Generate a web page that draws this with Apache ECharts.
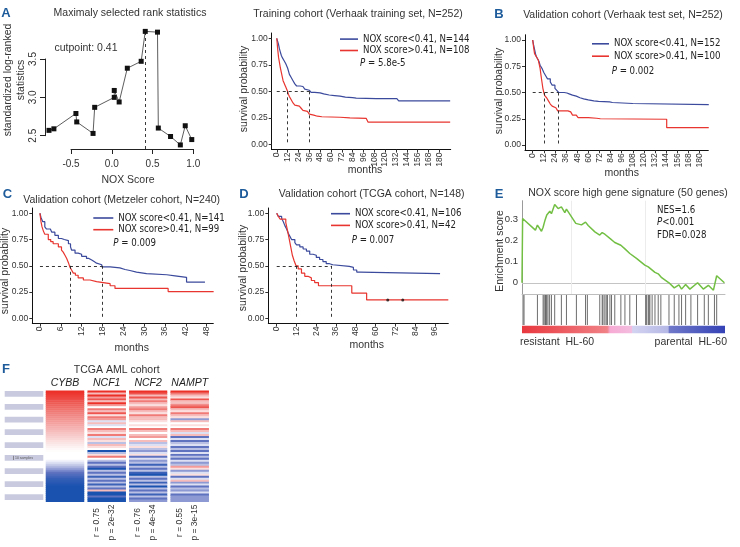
<!DOCTYPE html>
<html><head><meta charset="utf-8">
<script src="https://cdn.jsdelivr.net/npm/echarts@6/dist/echarts.min.js"></script>
<style>html,body{margin:0;padding:0;background:#fff}#c{width:740px;height:547px}</style>
</head><body><div id="c"></div>
<script>
// ---------- DATA ----------
// A: maximally selected rank statistics
const rankX = [-0.77,-0.71,-0.44,-0.43,-0.23,-0.21,0.03,0.03,0.09,0.19,0.36,0.41,0.56,0.57,0.72,0.84,0.90,0.98];
const rankY = [2.57,2.59,2.79,2.68,2.53,2.87,3.00,3.09,2.94,3.38,3.47,3.86,3.85,2.60,2.49,2.38,2.63,2.45];
const cutpoint = 0.41;
const rankXTicks = [-0.5,0,0.5,1.0];
const rankYTicks = [2.5,3.0,3.5];

// Kaplan-Meier curves [months, survival]
const trainBlue = [[0,1],[1,0.97],[2,0.94],[3,0.9],[4,0.87],[5,0.84],[6,0.82],[8,0.79],[10,0.76],[12,0.72],[13,0.69],[14,0.66],[16,0.63],[18,0.6],[20,0.57],[22,0.55],[26,0.545],[29,0.535],[31,0.52],[33,0.51],[36,0.5],[38,0.49],[42,0.485],[48,0.475],[52,0.465],[58,0.46],[64,0.455],[70,0.445],[76,0.44],[84,0.435],[88,0.43],[110,0.43],[133,0.425],[135,0.41],[192,0.41]];
const trainRed = [[0,1],[1,0.9],[2,0.82],[3,0.77],[4,0.72],[5,0.68],[6,0.64],[7,0.6],[8,0.58],[9,0.56],[10,0.54],[11,0.52],[12,0.5],[13,0.47],[14,0.45],[16,0.42],[18,0.39],[20,0.37],[22,0.36],[25,0.35],[27,0.34],[29,0.32],[31,0.31],[34,0.295],[36,0.285],[38,0.275],[41,0.265],[45,0.26],[50,0.255],[70,0.25],[81,0.245],[99,0.24],[101,0.21],[192,0.21]];
const testBlue = [[0,1],[1,0.95],[2,0.91],[3,0.87],[4,0.84],[6,0.81],[7,0.79],[8,0.76],[10,0.73],[12,0.69],[14,0.66],[16,0.63],[19,0.6],[21,0.57],[24,0.54],[26,0.52],[28,0.5],[34,0.495],[37,0.485],[40,0.475],[43,0.465],[47,0.45],[51,0.44],[55,0.43],[60,0.42],[66,0.415],[71,0.41],[83,0.405],[86,0.395],[108,0.385],[190,0.385]];
const testRed = [[0,1],[1,0.93],[2,0.87],[4,0.84],[6,0.81],[7,0.77],[8,0.73],[9,0.66],[10,0.6],[11,0.54],[12,0.5],[13,0.47],[15,0.45],[17,0.42],[19,0.39],[21,0.37],[23,0.355],[25,0.34],[27,0.325],[38,0.315],[41,0.3],[43,0.285],[47,0.27],[49,0.26],[60,0.255],[69,0.25],[73,0.245],[144.6,0.165],[190,0.165]];
const metBlue = [[0,1],[0.3,0.96],[0.8,0.92],[1.4,0.87],[1.9,0.85],[3,0.84],[3.4,0.82],[4.3,0.79],[5.3,0.76],[6.2,0.75],[7,0.74],[8.2,0.71],[8.8,0.68],[9.1,0.65],[10.1,0.62],[11,0.61],[12,0.59],[13.4,0.57],[14.1,0.555],[14.9,0.54],[15.6,0.525],[16.3,0.51],[17.8,0.49],[20.2,0.48],[23,0.465],[24.5,0.455],[25.9,0.44],[27.8,0.425],[30.7,0.415],[36.5,0.405],[38.9,0.39],[42.2,0.345],[47.5,0.345]];
const metRed = [[0,1],[0.3,0.92],[0.6,0.87],[1,0.83],[1.4,0.8],[2.4,0.75],[3.1,0.73],[3.8,0.71],[5.3,0.68],[6.2,0.65],[6.7,0.63],[7.2,0.6],[7.7,0.57],[8.2,0.53],[8.6,0.49],[9.1,0.46],[9.6,0.43],[10.2,0.41],[11,0.385],[12.5,0.365],[14.4,0.35],[16.3,0.335],[19.2,0.33],[20.2,0.31],[21.6,0.285],[36.9,0.255],[50,0.255]];
const tcgaBlue = [[0,1],[1,0.97],[3,0.95],[4,0.92],[5,0.88],[6,0.85],[7,0.81],[8,0.78],[9,0.75],[11,0.72],[12,0.7],[14,0.68],[16,0.66],[18,0.64],[20,0.61],[22,0.6],[24,0.58],[26,0.56],[28,0.54],[30,0.52],[32,0.51],[34,0.495],[44,0.485],[46.5,0.46],[48.5,0.44],[50.5,0.425],[99,0.425]];
const tcgaRed = [[0,1],[1,0.97],[2,0.945],[5.5,0.91],[6.5,0.84],[7.5,0.76],[8.5,0.68],[9.5,0.6],[10.5,0.55],[11.7,0.5],[13,0.47],[15,0.43],[17,0.4],[19,0.385],[21,0.36],[23,0.34],[25.3,0.31],[45.5,0.24],[54.5,0.175],[104,0.175]];
const tcgaRedCensor = [[67.3,0.175],[76.4,0.175]];
// medians [blue, red]
const trainMedian = [36, 12];
const testMedian = [27.7, 12.2];
const metMedian = [17.8, 8.6];
const tcgaMedian = [33.3, 11.7];
const trainTicks = [0,12,24,36,48,60,72,84,96,108,120,132,144,156,168,180];
const testTicks = [0,12,24,36,48,60,72,84,96,108,120,132,144,156,168,180];
const metTicks = [0,6,12,18,24,30,36,42,48];
const tcgaTicks = [0,12,24,36,48,60,72,84,96];
const survTicks = [0,0.25,0.5,0.75,1];
const trainNames = ['NOX score<0.41, N=144','NOX score>0.41, N=108'];
const testNames = ['NOX score<0.41, N=152','NOX score>0.41, N=100'];
const metNames = ['NOX score<0.41, N=141','NOX score>0.41, N=99'];
const tcgaNames = ['NOX score<0.41, N=106','NOX score>0.41, N=42'];
const pValues = ['5.8e-5','0.002','0.009','0.007'];

// E: GSEA running enrichment score [rank %, ES]
const esCurve = [[0,0],[0.3,0.303],[6.6,0.248],[7.6,0.272],[9.6,0.243],[10.4,0.262],[10.9,0.28],[11.5,0.30],[12.2,0.32],[12.8,0.315],[13.7,0.337],[14.5,0.326],[16.1,0.369],[17.8,0.35],[19.4,0.358],[21.1,0.331],[21.9,0.347],[26.5,0.28],[26.8,0.289],[29.3,0.273],[31.3,0.286],[32.6,0.27],[35.9,0.24],[38.3,0.225],[39.5,0.237],[40.8,0.229],[41.5,0.232],[43.3,0.209],[44.1,0.214],[45.7,0.19],[48.7,0.177],[50.7,0.16],[51,0.165],[53.1,0.138],[56.4,0.115],[60.5,0.083],[61.4,0.088],[62.2,0.075],[63,0.08],[65.5,0.049],[67.1,0.042],[68.8,0.024],[72.4,0.0],[75,-0.024],[77.3,-0.01],[78.6,-0.03],[80.6,-0.008],[82.7,-0.03],[86.5,0.0],[89.3,-0.03],[91.8,-0.012],[94.3,-0.035],[95.9,0.033],[99.7,0.0]];
const hits = [0.5,1.0,7.6,10.4,10.9,11.5,11.8,12.2,12.8,13.6,14.5,16.1,19.4,21.9,26.8,31.3,32.2,38.3,39.5,39.9,40.8,41.5,42.1,43.3,44.1,45.7,48.7,50.7,53.1,56.4,60.9,61.4,62.2,62.6,63.0,64.1,65.5,67.1,68.4,72.4,75.0,77.3,78.6,80.6,83.2,86.5,89.8,91.8,94.8,95.9];
const esTicks = [0,0.1,0.2,0.3];

// F: heatmap (z-scored expression, rows sorted by CYBB)
const genes = ['CYBB','NCF1','NCF2','NAMPT'];
const cybb = [3,2.9,2.8,2.7,2.6,2.5,2.4,2.3,2.2,2.1,2.0,1.9,1.8,1.7,1.6,1.5,1.4,1.3,1.2,1.1,1.0,0.9,0.8,0.7,0.6,0.5,0.4,0.3,0.2,0.1,0.05,0,0,0,0,-0.2,-0.5,-0.8,-1.1,-1.4,-1.7,-2.0,-2.2,-2.4,-2.6,-2.7,-2.8,-2.9,-3,-3,-3,-3,-3,-3,-3,-3];
const ncf1 = [3,1,3,1.5,2.5,1,3,1.5,0,2,1,2.5,0.5,2,1.5,-0.5,1,-0.5,0,2,1,0.5,2,-0.5,1,0.5,-1,1, 0.5,0,-3,-1,0.5,2,0,-1,-2,-1,-2,-3,-1,-2,-1,-2.5,-1,-2,-1,-2.5,-1,-2,1,-3,-3,-2,-3,-3];
const ncf2 = [3,2.5,1,2.5,1,2,1,0.5,1.5,2,1,0.5,2,1,1,0.5,0,0.5,0,2,1,0,1,1.5,0,1,-1,-0.5, 0.5,-1,-1.5,-0.5,0.5,-2,-0.5,-1.5,-1,-2.5,-1,-2,-1,-2.5,-3,-1,-2,-1,-2.5,-1,-3,-1,-2,-1,-2.5,-1,-2,-1.5];
const nampt = [3,2,1,0.5,2.5,1,1,2,2.5,1,0.5,2,1,0.5,-1.5,1,0,0.5,0,2,1,-0.5,1,-2,-0.5,-2,-1,-0.5, -2,-1,-2,-0.5,-2,-1,-2,-0.5,-1.5,-1,1.5,0.5,-1.5,-0.5,0.5,-2,-0.5,1,-1.5,-0.5,-2,-1,-1.5,-0.5,-2,-1.5,-1.5,-1.5];
const corrLabels = [null, ['r = 0.75','p = 2e-32'], ['r = 0.76','p = 4e-34'], ['r = 0.55','p = 3e-15']];

// ---------- STYLE / LAYOUT ----------
const F = "'Liberation Sans', Arial, Helvetica, sans-serif";
const FN = "'DejaVu Sans Condensed', 'Liberation Sans Narrow', sans-serif";
const FNS = 9.6;
const BLUE = '#3b4a9c', RED = '#e8352f', INK = '#333', LETTER = '#1d5b9b';

const grids = [], xAxes = [], yAxes = [], series = [], legends = [], graphics = [];
function addGrid(g){ grids.push(Object.assign({outerBoundsMode:'none', containLabel:false}, g)); return grids.length-1; }
function txt(x,y,text,o){ o=o||{};
  graphics.push({type:'text', x:x, y:y, rotation:o.rot||0, silent:true, z:50,
    style:{text:text, fontFamily:o.ff||F, fontSize:o.fs||10.5, fontWeight:o.fw||'normal', fontStyle:o.fst||'normal',
      fill:o.fill||INK, align:o.align||'center', verticalAlign:o.va||'middle', textAlign:o.align||'center', textVerticalAlign:o.va||'middle',
      lineHeight:o.lh, rich:o.rich}});
}
const italicP = {i:{fontStyle:'italic', fontFamily:FN, fontSize:FNS}};

// ---- A left: rank statistics ----
let g = addGrid({left:45, top:31, width:155, height:118});
xAxes.push({gridIndex:g, type:'value', min:-0.819, max:1.081, show:false});
yAxes.push({gridIndex:g, type:'value', min:2.327, max:3.865, show:false});
series.push({type:'line', xAxisIndex:g, yAxisIndex:g, data:rankX.map((x,i)=>[x,rankY[i]]),
  symbol:'rect', symbolSize:5, color:'#111', lineStyle:{color:'#333', width:0.8}, z:5,
  markLine:{silent:true, symbol:'none', label:{show:false}, lineStyle:{color:'#222', type:[3,3], width:0.9},
    data:[{xAxis:cutpoint}]}});
g = addGrid({left:71, top:148, width:122.3, height:1});
xAxes.push({gridIndex:g, type:'value', min:rankXTicks[0], max:rankXTicks[rankXTicks.length-1], interval:0.5,
  axisLine:{lineStyle:{color:'#222', width:1}}, axisTick:{length:5, lineStyle:{color:'#222'}},
  axisLabel:{formatter:v=>v.toFixed(1), fontSize:10, fontFamily:F, color:INK, margin:10}, splitLine:{show:false}});
yAxes.push({gridIndex:g, type:'value', show:false, min:0, max:1});
g = addGrid({left:45, top:59, width:1, height:76.7});
xAxes.push({gridIndex:g, type:'value', show:false, min:0, max:1});
yAxes.push({gridIndex:g, type:'value', min:rankYTicks[0], max:rankYTicks[rankYTicks.length-1], interval:0.5,
  axisLine:{lineStyle:{color:'#222', width:1}}, axisTick:{length:5, lineStyle:{color:'#222'}},
  axisLabel:{formatter:v=>v.toFixed(1), fontSize:10, fontFamily:F, color:INK, margin:7, rotate:90}, splitLine:{show:false}});
txt(130,13.5,'Maximaly selected rank statistics');
txt(86,48,'cutpoint: '+cutpoint);
txt(128,180,'NOX Score');
txt(14.5,80,'standardized log-ranked\nstatistics',{rot:Math.PI/2, lh:13});
txt(6,13.3,'A',{fw:'bold', fs:13, fill:LETTER});

// ---- KM panels ----
const km = [
  {grid:{left:271.7, top:33, width:179, height:116.6}, xmin:-5.6, xmax:192.6, ticks:trainTicks, blue:trainBlue, red:trainRed, med:trainMedian, names:trainNames,
   lg:{left:340, top:33.6, iw:18, gap:0.4}, p:[360,63.3,pValues[0]], title:[358,14,'Training cohort (Verhaak training set, N=252)'], ylab:[244.5,89], xlab:[365,170.5]},
  {grid:{left:525, top:34.75, width:183.3, height:115.5}, xmin:-8.3, xmax:189.5, ticks:testTicks, blue:testBlue, red:testRed, med:testMedian, names:testNames,
   lg:{left:592, top:38.3, iw:17, gap:1.4}, p:[611.7,71.7,pValues[1]], title:[623,15,'Validation cohort (Verhaak test set, N=252)'], ylab:[499,91], xlab:[621.7,173.3], letter:[499,14,'B']},
  {grid:{left:32.3, top:208, width:181, height:115.6}, xmin:-2.2, xmax:49.9, ticks:metTicks, blue:metBlue, red:metRed, med:metMedian, names:metNames,
   lg:{left:93.3, top:212.5, iw:20, gap:0.7}, p:[113.3,243.3,pValues[2]], title:[121.7,200,'Validation cohort (Metzeler cohort, N=240)'], ylab:[5.5,271], xlab:[131.7,348.3], letter:[7.5,194,'C']},
  {grid:{left:268.3, top:208, width:180, height:115.6}, xmin:-5.1, xmax:104, ticks:tcgaTicks, blue:tcgaBlue, red:tcgaRed, med:tcgaMedian, names:tcgaNames, censor:tcgaRedCensor,
   lg:{left:331, top:208.2, iw:19, gap:0.7}, p:[351.7,240,pValues[3]], title:[371.7,194,'Validation cohort (TCGA cohort, N=148)'], ylab:[243,268], xlab:[366.7,345], letter:[244,194,'D']}
];
km.forEach(k=>{
  const gi = addGrid(k.grid);
  xAxes.push({gridIndex:gi, type:'value', min:k.xmin, max:k.xmax,
    axisLine:{onZero:false, lineStyle:{color:'#111', width:1}},
    axisTick:{show:true, length:3, customValues:k.ticks, lineStyle:{color:'#333'}},
    axisLabel:{customValues:k.ticks, rotate:90, fontSize:8.5, fontFamily:F, color:INK, margin:3},
    splitLine:{show:false}});
  yAxes.push({gridIndex:gi, type:'value', min:-0.05, max:1.05,
    axisLine:{onZero:false, lineStyle:{color:'#111', width:1}},
    axisTick:{show:true, length:3, customValues:survTicks, lineStyle:{color:'#333'}},
    axisLabel:{customValues:survTicks, formatter:v=>v.toFixed(2), fontSize:8.5, fontFamily:F, color:INK, margin:4},
    splitLine:{show:false}});
  const mb = k.med[0], mr = k.med[1];
  series.push({type:'line', name:k.names[0], xAxisIndex:gi, yAxisIndex:gi, data:k.blue, step:'end', symbol:'none',
    color:BLUE, lineStyle:{color:BLUE, width:1.2}, z:4,
    markLine:{silent:true, symbol:'none', label:{show:false}, lineStyle:{color:'#222', type:[3,3], width:0.9},
      data:[[{coord:[0,0.5]},{coord:[Math.max(mb,mr),0.5]}],[{coord:[mr,0.5]},{coord:[mr,0]}],[{coord:[mb,0.5]},{coord:[mb,0]}]]}});
  series.push({type:'line', name:k.names[1], xAxisIndex:gi, yAxisIndex:gi, data:k.red, step:'end', symbol:'none',
    color:RED, lineStyle:{color:RED, width:1.2}, z:4});
  if(k.censor){
    series.push({type:'scatter', xAxisIndex:gi, yAxisIndex:gi, data:k.censor, symbol:'circle', symbolSize:3, color:'#111', z:6, silent:true});
  }
  legends.push({data:k.names, orient:'vertical', left:k.lg.left, top:k.lg.top, padding:0, itemGap:k.lg.gap,
    itemWidth:k.lg.iw, itemHeight:1.6, icon:'rect', selectedMode:false,
    textStyle:{fontFamily:FN, fontSize:FNS, color:'#222', lineHeight:11}});
  txt(k.p[0],k.p[1],'{i|P} = '+k.p[2],{ff:FN, fs:FNS, align:'left', fill:'#222', rich:italicP});
  txt(k.title[0],k.title[1],k.title[2]);
  txt(k.ylab[0],k.ylab[1],'survival probability',{rot:Math.PI/2});
  txt(k.xlab[0],k.xlab[1],'months');
  if(k.letter) txt(k.letter[0],k.letter[1],k.letter[2],{fw:'bold', fs:13, fill:LETTER});
});

// ---- E: GSEA ----
g = addGrid({left:522, top:200.7, width:203, height:93.3});
xAxes.push({gridIndex:g, type:'value', min:0, max:100, axisLine:{show:true, onZero:false, lineStyle:{color:'#bdbdbd'}},
  axisTick:{show:false}, axisLabel:{show:false}, splitLine:{show:false}});
yAxes.push({gridIndex:g, type:'value', min:-0.053, max:0.387, axisLine:{show:true, onZero:false, lineStyle:{color:'#9a9a9a'}},
  axisTick:{show:false}, axisLabel:{customValues:esTicks, formatter:v=>v===0?'0':v.toFixed(1), fontSize:9.5, fontFamily:F, color:INK, margin:4},
  splitLine:{show:false}});
series.push({type:'line', xAxisIndex:g, yAxisIndex:g, data:esCurve, symbol:'none', color:'#72bf44',
  lineStyle:{color:'#72bf44', width:1.5}, z:5,
  markLine:{silent:true, symbol:'none', label:{show:false}, z:1,
    data:[{yAxis:0, lineStyle:{color:'#c4c4c4', type:'solid', width:1}},
          {xAxis:24.5, lineStyle:{color:'#ececec', type:'solid', width:1}},
          {xAxis:60.7, lineStyle:{color:'#ececec', type:'solid', width:1}}]}});
g = addGrid({left:522, top:295, width:203, height:30});
xAxes.push({gridIndex:g, type:'value', min:0, max:100, show:false});
yAxes.push({gridIndex:g, type:'value', min:0, max:1, show:false});
series.push({type:'scatter', xAxisIndex:g, yAxisIndex:g, data:hits.map(h=>[h,0.5]), symbol:'rect', symbolSize:[1,30],
  color:'#4a4a4a', silent:true});
graphics.push({type:'rect', shape:{x:522, y:325.7, width:203, height:7.5}, silent:true,
  style:{fill:new echarts.graphic.LinearGradient(0,0,1,0,[
    {offset:0,color:'#e8383e'},{offset:0.42,color:'#f08186'},{offset:0.434,color:'#f7aad4'},{offset:0.54,color:'#f3bddf'},
    {offset:0.545,color:'#d3d3f1'},{offset:0.72,color:'#b5b8e5'},{offset:0.725,color:'#7079c9'},{offset:1,color:'#3442b6'}])}});
txt(628,193.3,'NOX score high gene signature (50 genes)');
txt(500,251,'Enrichment score',{rot:Math.PI/2});
txt(657,210,'NES=1.6',{ff:FN, fs:FNS, align:'left', fill:'#222'});
txt(657,222.5,'{i|P}<0.001',{ff:FN, fs:FNS, align:'left', fill:'#222', rich:italicP});
txt(657,235,'FDR=0.028',{ff:FN, fs:FNS, align:'left', fill:'#222'});
txt(520,342.3,'resistant  HL-60',{align:'left'});
txt(727,342.3,'parental  HL-60',{align:'right'});
txt(499,194,'E',{fw:'bold', fs:13, fill:LETTER});

// ---- F: heatmap ----
const heatVals = [cybb, ncf1, ncf2, nampt];
const heatCols = [[46,38],[87.7,38],[129.3,37.7],[170.7,38]];
const rowIds = cybb.map((_,i)=>String(i));
const heatSeriesIdx = [];
heatVals.forEach((vals,c)=>{
  const gi = addGrid({left:heatCols[c][0], width:heatCols[c][1], top:390.7, height:111});
  xAxes.push({gridIndex:gi, type:'category', data:[genes[c]], position:'top', axisLine:{show:false}, axisTick:{show:false},
    axisLabel:{fontStyle:'italic', fontSize:10.5, fontFamily:F, color:'#222', margin:2}, splitLine:{show:false}});
  yAxes.push({gridIndex:gi, type:'category', data:rowIds, inverse:true, show:false});
  heatSeriesIdx.push(series.length);
  series.push({type:'heatmap', xAxisIndex:gi, yAxisIndex:gi, data:vals.map((v,i)=>[0,i,v]), silent:true, itemStyle:{borderWidth:0}});
});
const barTops = [391,404,416.7,429.3,442.3,455,468.3,481.3,494.3];
barTops.forEach(t=>graphics.push({type:'rect', shape:{x:4.7, y:t, width:38.6, height:5.7}, silent:true, style:{fill:'#c9cadf'}}));
graphics.push({type:'line', shape:{x1:13.5,y1:455.8,x2:13.5,y2:460}, silent:true, style:{stroke:'#555', lineWidth:0.6}});
txt(15,458,'10 samples',{fs:3.5, align:'left', fill:'#555'});
corrLabels.forEach((lab,c)=>{
  if(!lab) return;
  const cx = heatCols[c][0] + heatCols[c][1]/2;
  txt(cx-10.5,522.5,lab[0],{rot:Math.PI/2, fs:8.5});
  txt(cx+4.5,522.5,lab[1],{rot:Math.PI/2, fs:8.5});
});
txt(116.7,370,'TCGA AML cohort');
txt(6,369,'F',{fw:'bold', fs:13, fill:LETTER});

const chart = echarts.init(document.getElementById('c'), null, {renderer:'canvas'});
chart.setOption({
  animation:false, backgroundColor:'#fff',
  grid:grids, xAxis:xAxes, yAxis:yAxes, series:series, legend:legends,
  visualMap:{type:'continuous', min:-3, max:3, show:false, seriesIndex:heatSeriesIdx, dimension:2,
    inRange:{color:['#1a52b0','#5e72c0','#b9c0e4','#ffffff','#f6bcbc','#f07a76','#ec2f27']}},
  graphic:graphics
});
</script></body></html>
